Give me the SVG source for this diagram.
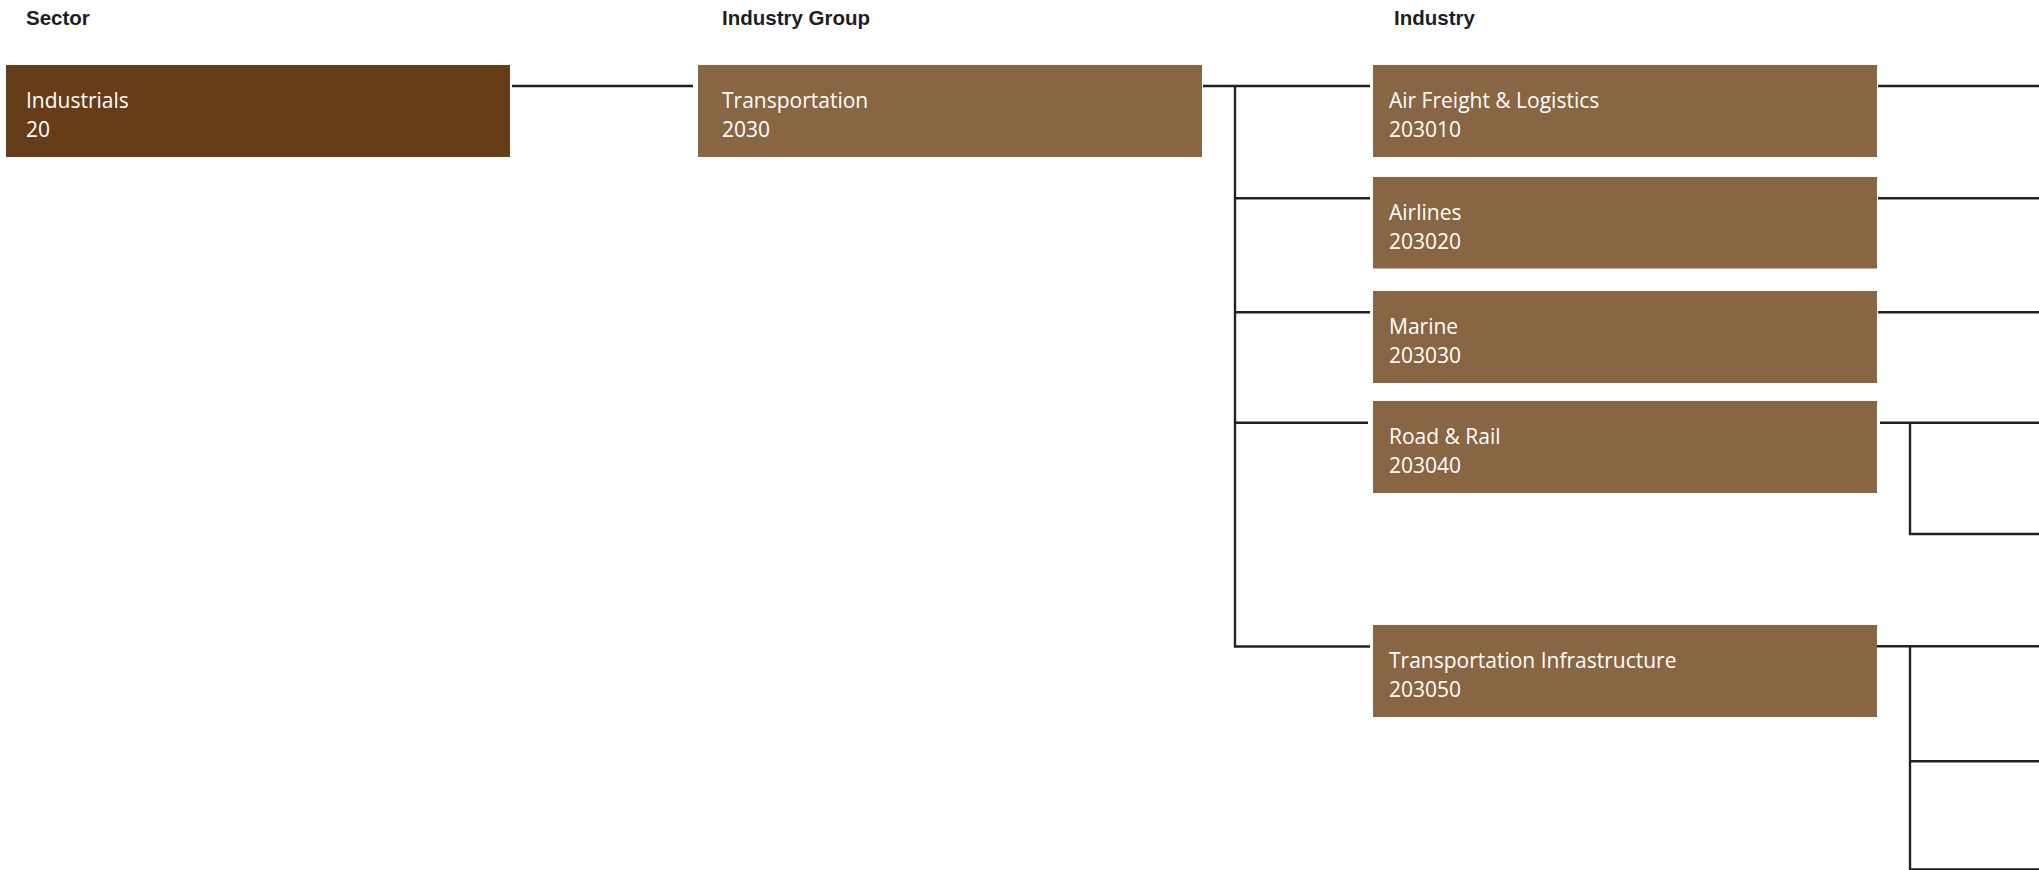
<svg xmlns="http://www.w3.org/2000/svg" width="2039" height="870" viewBox="0 0 2039 870">
<style>
.hdr{font-family:"Liberation Sans",Arial,sans-serif;font-weight:bold;font-size:20.5px;fill:#1e1e1e}
.lbl{font-family:"Open Sans","Noto Sans",sans-serif;font-size:21px;fill:#ffffff}
.sector{fill:#673C18}
.node{fill:#886543}
.conn{stroke:#222222;stroke-width:2.4;fill:none}
</style>
<rect width="2039" height="870" fill="#ffffff"/>
<g id="headers">
<text class="hdr" x="26" y="25">Sector</text>
<text class="hdr" x="722" y="25">Industry Group</text>
<text class="hdr" x="1394" y="25">Industry</text>
</g>
<g id="connectors">
<path class="conn" d="M512 86H693"/>
<path class="conn" d="M1203 86H1370"/>
<path class="conn" d="M1235 86V646.5H1370"/>
<path class="conn" d="M1236 198.3H1370"/>
<path class="conn" d="M1236 312.3H1370"/>
<path class="conn" d="M1236 422.7H1368"/>
<path class="conn" d="M1878 86H2039"/>
<path class="conn" d="M1878 198.3H2039"/>
<path class="conn" d="M1878 312.3H2039"/>
<path class="conn" d="M1880 422.7H2039"/>
<path class="conn" d="M1910 422.7V534H2039"/>
<path class="conn" d="M1877 646.3H2039"/>
<path class="conn" d="M1910 646.3V870"/>
<path class="conn" d="M1910 761.3H2039"/>
<path class="conn" d="M1910 869.5H2039"/>
</g>
<g id="node-industrials">
<rect class="sector" x="6" y="65" width="504" height="92"/>
<text class="lbl" x="26" y="108">Industrials</text>
<text class="lbl" x="26" y="136.5">20</text>
</g>
<g id="node-transportation">
<rect class="node" x="698" y="65" width="504" height="92"/>
<text class="lbl" x="722" y="108">Transportation</text>
<text class="lbl" x="722" y="136.5">2030</text>
</g>
<g id="node-air-freight">
<rect class="node" x="1373" y="65" width="504" height="92"/>
<text class="lbl" x="1389" y="108">Air Freight &amp; Logistics</text>
<text class="lbl" x="1389" y="136.5">203010</text>
</g>
<g id="node-airlines">
<rect class="node" x="1373" y="177" width="504" height="91.5"/>
<text class="lbl" x="1389" y="220">Airlines</text>
<text class="lbl" x="1389" y="248.5">203020</text>
</g>
<g id="node-marine">
<rect class="node" x="1373" y="291" width="504" height="92"/>
<text class="lbl" x="1389" y="334">Marine</text>
<text class="lbl" x="1389" y="362.5">203030</text>
</g>
<g id="node-road-rail">
<rect class="node" x="1373" y="401" width="504" height="92"/>
<text class="lbl" x="1389" y="444">Road &amp; Rail</text>
<text class="lbl" x="1389" y="472.5">203040</text>
</g>
<g id="node-transportation-infrastructure">
<rect class="node" x="1373" y="625" width="504" height="92"/>
<text class="lbl" x="1389" y="668">Transportation Infrastructure</text>
<text class="lbl" x="1389" y="696.5">203050</text>
</g>
</svg>
